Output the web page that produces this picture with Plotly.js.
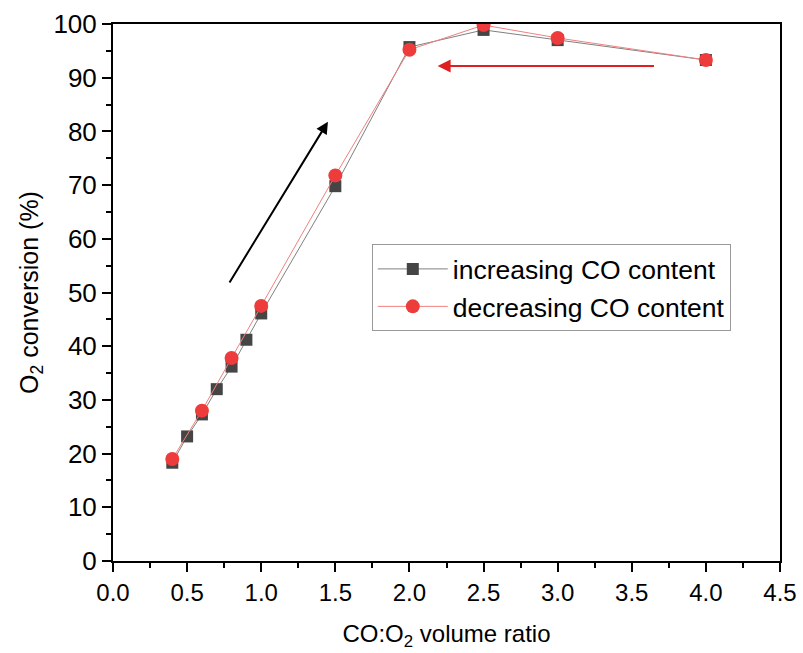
<!DOCTYPE html>
<html>
<head>
<meta charset="utf-8">
<script src="https://cdn.plot.ly/plotly-3.0.1.min.js"></script>
<style>html,body{margin:0;padding:0;background:#fff;}#chart{width:803px;height:653px;}</style>
</head>
<body>
<div id="chart"></div>
<script>
const incX = [0.4, 0.5, 0.6, 0.7, 0.8, 0.9, 1.0, 1.5, 2.0, 2.5, 3.0, 4.0];
const incY = [18.3, 23.2, 27.3, 32.0, 36.2, 41.2, 46.1, 69.8, 95.7, 98.9, 97.0, 93.3];
const decX = [0.4, 0.6, 0.8, 1.0, 1.5, 2.0, 2.5, 3.0, 4.0];
const decY = [19.0, 28.0, 37.8, 47.5, 71.8, 95.2, 99.8, 97.4, 93.3];
const xTicks = [0, 0.5, 1.0, 1.5, 2.0, 2.5, 3.0, 3.5, 4.0, 4.5];
const yTicks = [0, 10, 20, 30, 40, 50, 60, 70, 80, 90, 100];

const font = "Liberation Sans, Arial, sans-serif";
const traces = [
  {x: incX, y: incY, mode: 'lines+markers', name: 'increasing CO content',
   line: {color: '#808080', width: 1},
   marker: {symbol: 'square', size: 12, color: '#454545'}},
  {x: decX, y: decY, mode: 'lines+markers', name: 'decreasing CO content',
   line: {color: '#f08080', width: 1},
   marker: {symbol: 'circle', size: 14, color: '#ee3b3b'}}
];
const axisCommon = {
  showgrid: false, zeroline: false, showline: true, linecolor: '#000', linewidth: 2,
  mirror: true, ticks: 'outside', ticklen: 9, tickwidth: 2, tickcolor: '#000',
  minor: {ticks: 'outside', ticklen: 5, tickwidth: 2, tickcolor: '#000'}
};
const layout = {
  width: 803, height: 653,
  margin: {l: 113, r: 23, t: 24, b: 92},
  paper_bgcolor: '#fff', plot_bgcolor: '#fff',
  showlegend: true,
  legend: {x: 0.388, y: 0.59, xanchor: 'left', yanchor: 'top',
    bordercolor: '#999', borderwidth: 1, bgcolor: '#fff',
    font: {family: font, size: 26.5, color: '#000'}, itemwidth: 70, tracegroupgap: 0},
  xaxis: Object.assign({}, axisCommon, {
    range: [0, 4.5], tickvals: xTicks, ticktext: xTicks.map(v => v.toFixed(1)),
    tickfont: {family: font, size: 24, color: '#000'},
    minor: Object.assign({}, axisCommon.minor, {dtick: 0.25, tick0: 0}),
    title: {text: 'CO:O<sub>2</sub> volume ratio', font: {family: font, size: 24, color: '#000'}, standoff: 20}
  }),
  yaxis: Object.assign({}, axisCommon, {
    range: [0, 100], tickvals: yTicks,
    tickfont: {family: font, size: 26, color: '#000'},
    minor: Object.assign({}, axisCommon.minor, {dtick: 5, tick0: 0}),
    title: {text: 'O<sub>2</sub> conversion (%)', font: {family: font, size: 25, color: '#000'}, standoff: 8}
  }),
  annotations: [
    {x: 1.45, y: 81.8, ax: 0.78, ay: 51.6, xref: 'x', yref: 'y', axref: 'x', ayref: 'y',
     showarrow: true, arrowhead: 2, arrowsize: 1.2, arrowwidth: 2, arrowcolor: '#000', text: ''},
    {x: 2.19, y: 92.2, ax: 3.66, ay: 92.2, xref: 'x', yref: 'y', axref: 'x', ayref: 'y',
     showarrow: true, arrowhead: 2, arrowsize: 1.3, arrowwidth: 2, arrowcolor: '#e02020', text: ''}
  ]
};
Plotly.newPlot('chart', traces, layout, {displayModeBar: false, staticPlot: true});
</script>
</body>
</html>
